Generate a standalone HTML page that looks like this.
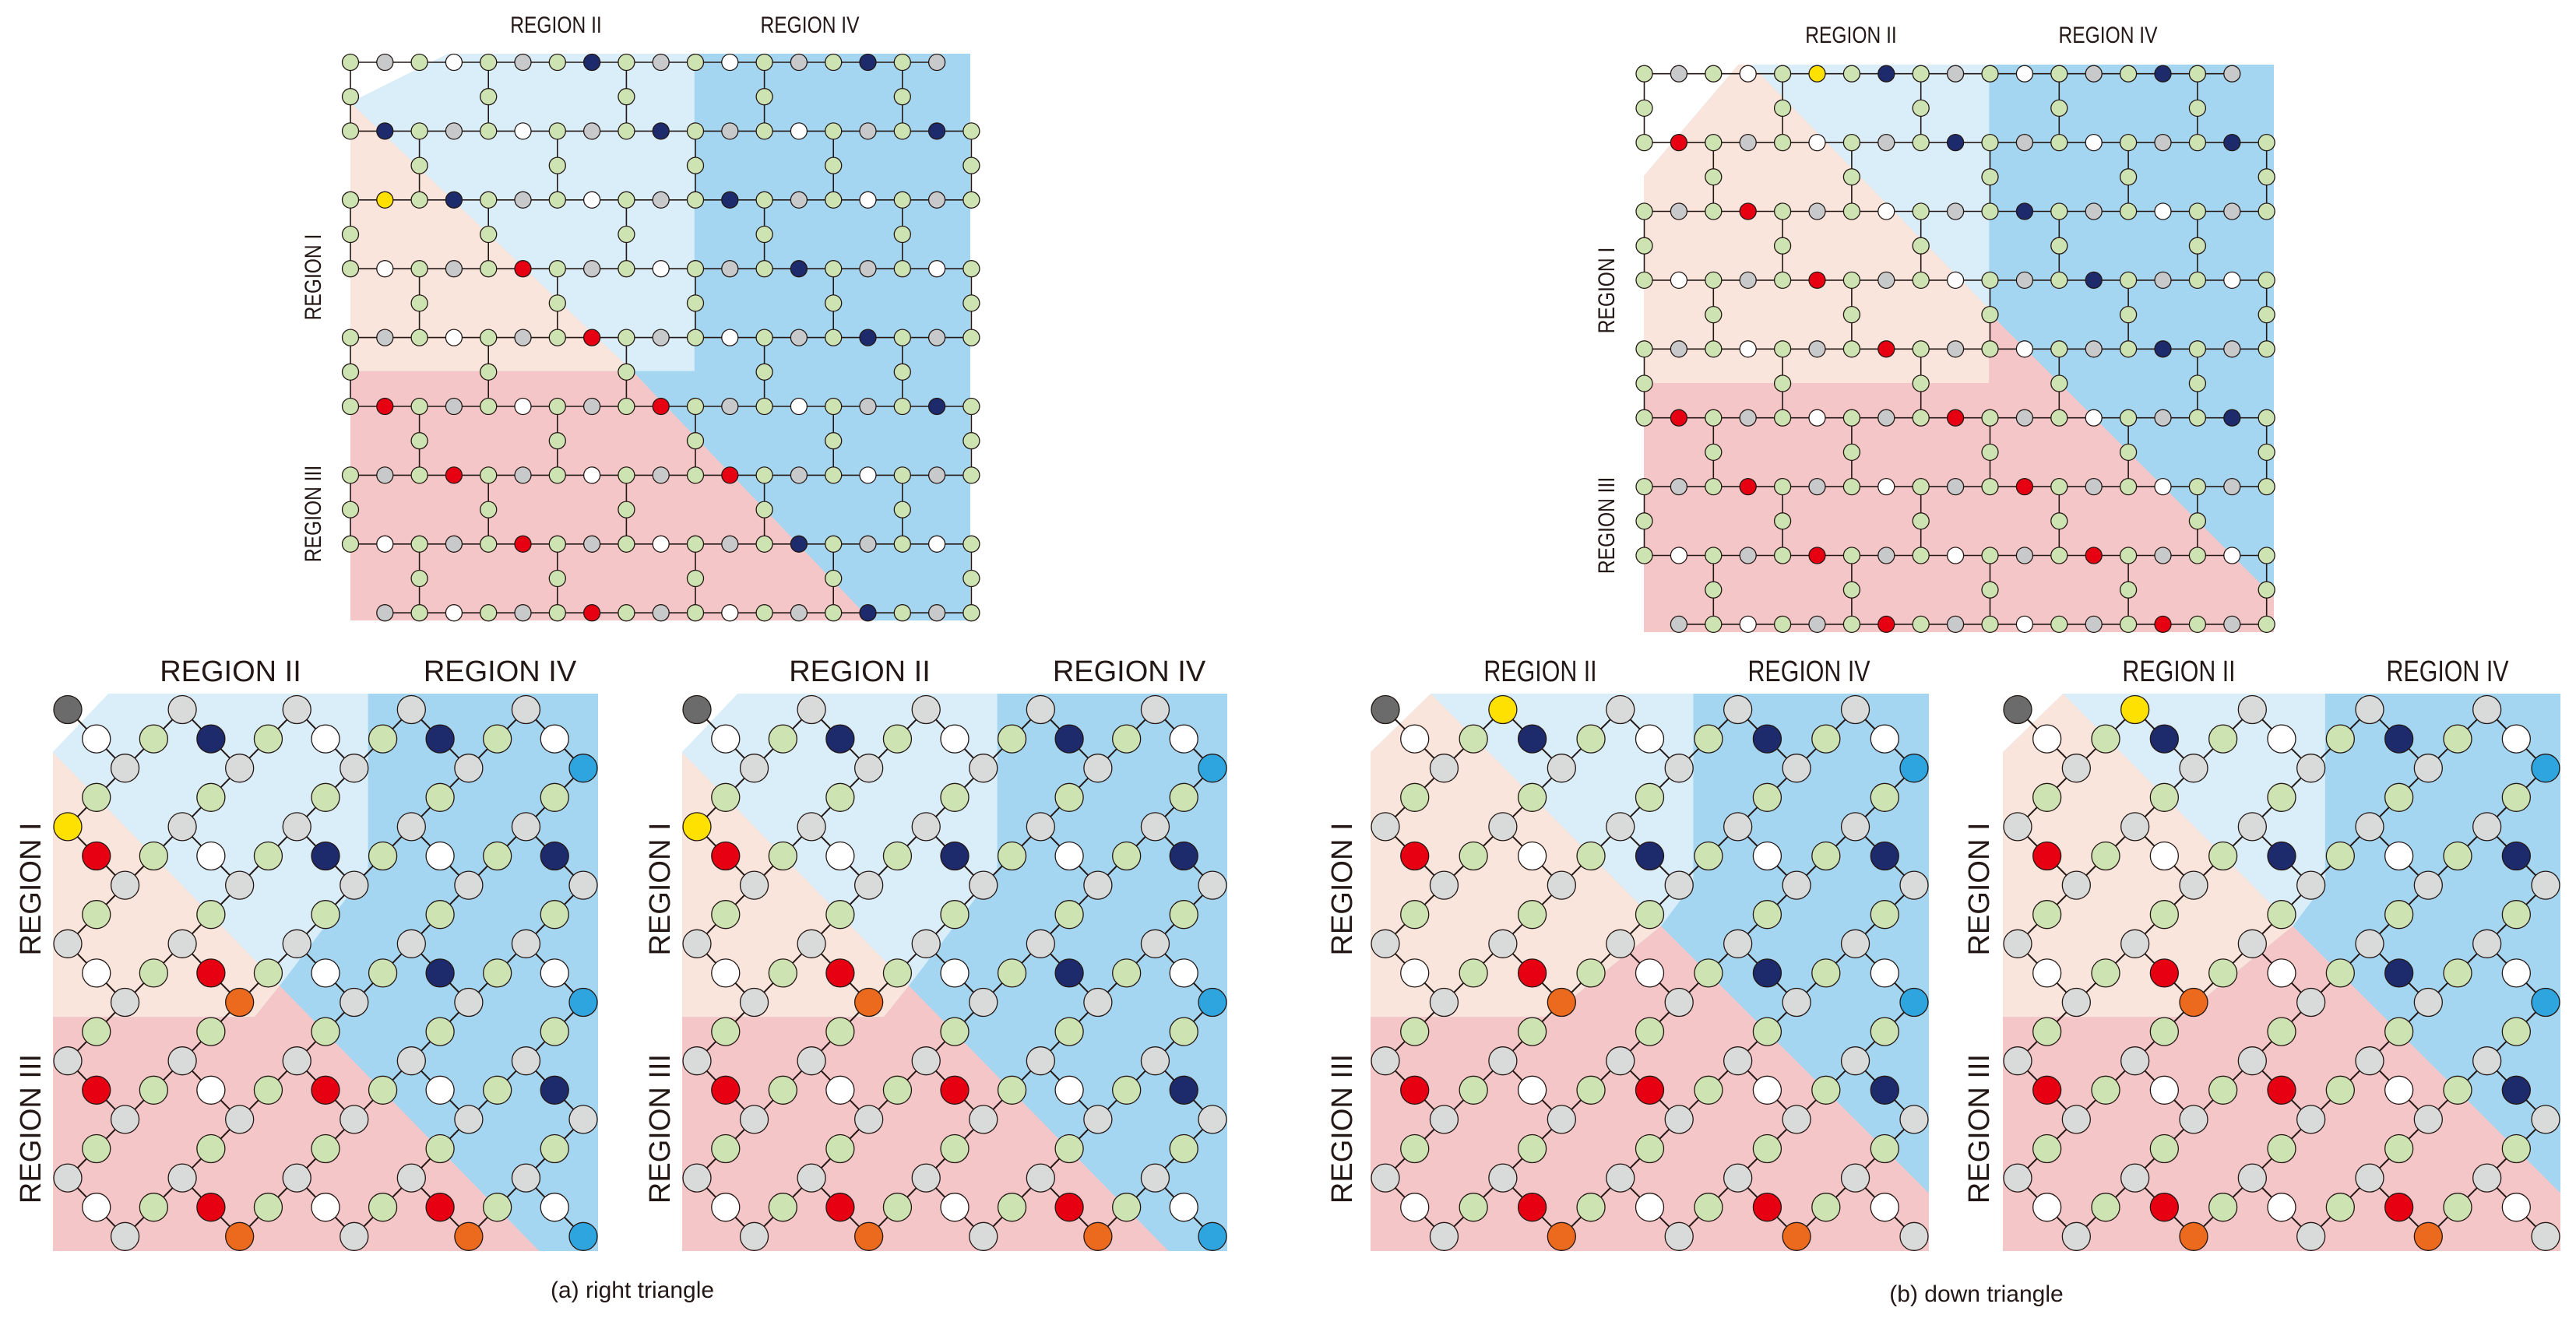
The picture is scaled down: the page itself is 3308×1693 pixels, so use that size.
<!DOCTYPE html>
<html><head><meta charset="utf-8">
<style>
html,body{margin:0;padding:0;background:#fff;}
svg{display:block;}
text{font-family:"Liberation Sans",sans-serif;fill:#231815;}
</style></head>
<body>
<svg id="fig" width="3308" height="1693" viewBox="0 0 3308 1693" xmlns="http://www.w3.org/2000/svg">
<g id="bg"></g><g id="edges"></g><g id="nodes"></g>
<g id="labels">
  <text x="714" y="42" font-size="30" text-anchor="middle" transform="translate(714 0) scale(0.82 1) translate(-714 0)">REGION II</text>
  <text x="1040" y="42" font-size="30" text-anchor="middle" transform="translate(1040 0) scale(0.82 1) translate(-1040 0)">REGION IV</text>
  <text font-size="30" text-anchor="middle" transform="translate(412 356) rotate(-90) scale(0.82 1)">REGION I</text>
  <text font-size="30" text-anchor="middle" transform="translate(412 660) rotate(-90) scale(0.82 1)">REGION III</text>

  <text x="2377" y="55" font-size="30" text-anchor="middle" transform="translate(2377 0) scale(0.82 1) translate(-2377 0)">REGION II</text>
  <text x="2707" y="55" font-size="30" text-anchor="middle" transform="translate(2707 0) scale(0.82 1) translate(-2707 0)">REGION IV</text>
  <text font-size="30" text-anchor="middle" transform="translate(2073 373) rotate(-90) scale(0.82 1)">REGION I</text>
  <text font-size="30" text-anchor="middle" transform="translate(2073 675) rotate(-90) scale(0.82 1)">REGION III</text>

  <text x="296" y="875" font-size="38" text-anchor="middle">REGION II</text>
  <text x="642" y="875" font-size="38" text-anchor="middle">REGION IV</text>
  <text font-size="38" text-anchor="middle" transform="translate(52 1142) rotate(-90)">REGION I</text>
  <text font-size="38" text-anchor="middle" transform="translate(52 1450) rotate(-90)">REGION III</text>

  <text x="1104" y="875" font-size="38" text-anchor="middle">REGION II</text>
  <text x="1450" y="875" font-size="38" text-anchor="middle">REGION IV</text>
  <text font-size="38" text-anchor="middle" transform="translate(860 1142) rotate(-90)">REGION I</text>
  <text font-size="38" text-anchor="middle" transform="translate(860 1450) rotate(-90)">REGION III</text>

  <text font-size="38" text-anchor="middle" transform="translate(1978 875) scale(0.8 1)">REGION II</text>
  <text font-size="38" text-anchor="middle" transform="translate(2323 875) scale(0.8 1)">REGION IV</text>
  <text font-size="38" text-anchor="middle" transform="translate(1736 1142) rotate(-90)">REGION I</text>
  <text font-size="38" text-anchor="middle" transform="translate(1736 1450) rotate(-90)">REGION III</text>

  <text font-size="38" text-anchor="middle" transform="translate(2798 875) scale(0.8 1)">REGION II</text>
  <text font-size="38" text-anchor="middle" transform="translate(3143 875) scale(0.8 1)">REGION IV</text>
  <text font-size="38" text-anchor="middle" transform="translate(2554 1142) rotate(-90)">REGION I</text>
  <text font-size="38" text-anchor="middle" transform="translate(2554 1450) rotate(-90)">REGION III</text>

  <text x="812" y="1667" font-size="30" text-anchor="middle">(a)  right triangle</text>
  <text x="2538" y="1672" font-size="30" text-anchor="middle">(b)  down triangle</text>
</g>
</svg>
<script>
var NS="http://www.w3.org/2000/svg";
var C={blue:"#a5d6f1",lb:"#daeefa",peach:"#fae5dc",pink:"#f5c6c8",
  green:"#cde3b1",gray:"#d9dada",white:"#ffffff",navy:"#1d2a6c",red:"#e60012",
  orange:"#eb6a1e",cyan:"#2fa5df",yellow:"#ffe100",dark:"#6b6b6b"};
var rightShapes={blue:[[0.102,0],[1,0],[1,1],[0,1],[0,0.105]],lb:[[0.102,0],[0.578,0],[0.578,0.316],[0.416,0.524],[0,0.105]],
  peach:[[0,0.105],[0.416,0.524],[0.37,0.58],[0,0.58]],pink:[[0,0.58],[0.37,0.58],[0.416,0.524],[0.892,1],[0,1]]};
var downShapes={blue:[[0.108,0],[1,0],[1,1],[0,1],[0,0.105]],lb:[[0.108,0],[0.578,0],[0.578,0.34],[0.52,0.417]],
  peach:[[0,0.105],[0.108,0],[0.52,0.417],[0.32,0.58],[0,0.58]],pink:[[0,0.58],[0.32,0.58],[0.52,0.417],[1,0.896],[1,1],[0,1]]};
var topLeftShapes={blue:[[0.158,0],[1,0],[1,1],[0,1],[0,0.086]],lb:[[0.158,0],[0.555,0],[0.555,0.56],[0.455,0.56],[0,0.086]],
  peach:[[0,0.086],[0.455,0.56],[0,0.56]],pink:[[0,0.56],[0.455,0.56],[0.84,1],[0,1]]};
var topRightShapes={blue:[[0.15,0],[1,0],[1,1],[0,1],[0,0.196]],lb:[[0.17,0],[0.548,0],[0.548,0.43]],
  peach:[[0,0.196],[0.15,0],[0.17,0],[0.548,0.43],[0.548,0.561],[0,0.561]],pink:[[0,0.561],[0.548,0.561],[0.548,0.437],[1,0.938],[1,1],[0,1]]};
var bottomPanels=[
  {name:"panel-a1",x:68,y:891,w:700,h:716,shapes:rightShapes,yellow:[4,0]},
  {name:"panel-a2",x:876,y:891,w:700,h:716,shapes:rightShapes,yellow:[4,0]},
  {name:"panel-b1",x:1760,y:891,w:717,h:716,shapes:downShapes,yellow:[0,4]},
  {name:"panel-b2",x:2572,y:891,w:716,h:716,shapes:downShapes,yellow:[0,4]}];
var topPanels=[
  {name:"top-left",x:450,y:69,w:796,h:728,nx:450,ny:80,sx:44.3,sy:44.2,shapes:topLeftShapes,yellow:[4,1]},
  {name:"top-right",x:2111,y:83,w:809,h:729,nx:2111.5,ny:94.7,sx:44.4,sy:44.2,shapes:topRightShapes,yellow:[0,5]}];

function el(tag,attrs,parent){var e=document.createElementNS(NS,tag);for(var k in attrs)e.setAttribute(k,attrs[k]);parent.appendChild(e);return e;}
function inPoly(u,v,p){var c=false;for(var i=0,j=p.length-1;i<p.length;j=i++){var a=p[i],b=p[j];
  if(((a[1]>v)!=(b[1]>v))&&(u<(b[0]-a[0])*(v-a[1])/(b[1]-a[1])+a[0]))c=!c;}return c;}
function region(P,x,y){var u=(x-P.x)/P.w,v=(y-P.y)/P.h,S=P.shapes;
  if(inPoly(u,v,S.pink))return "pink";if(inPoly(u,v,S.peach))return "peach";
  if(inPoly(u,v,S.lb))return "lb";if(inPoly(u,v,S.blue))return "blue";return "none";}
var gbg=document.getElementById("bg"),ge=document.getElementById("edges"),gn=document.getElementById("nodes");
function drawShapes(P){["blue","lb","peach","pink"].forEach(function(k){
  var pts=P.shapes[k].map(function(q){return (P.x+q[0]*P.w)+","+(P.y+q[1]*P.h);}).join(" ");
  var e=el("polygon",{points:pts,fill:C[k]},gbg);
  
  });}
function node(P,x,y,r,fill,id){var e=el("circle",{cx:x,cy:y,r:r,fill:fill,stroke:"#231815","stroke-width":1.3},gn);
  
  }
function edge(P,a,b,w){var e=el("line",{x1:a[0],y1:a[1],x2:b[0],y2:b[1],stroke:"#231815","stroke-width":w},ge);
  
  }

bottomPanels.forEach(function(P){
  drawShapes(P);
  var sx=(P.w-38)/18, sy=37.6, x0=P.x+19, y0=P.y+20.5;
  function exists(r,c){if(r<0||r>18||c<0||c>18)return false;var m=r%4;
    if(m==0)return c%4==0;if(m==1)return c%2==1;if(m==2)return c%4==2;return c%4==1;}
  function pos(r,c){return [x0+c*sx,y0+r*sy];}
  for(var r=0;r<=18;r++)for(var c=0;c<=18;c++){if(!exists(r,c))continue;
    [[1,1],[1,-1]].forEach(function(d){if(exists(r+d[0],c+d[1]))edge(P,pos(r,c),pos(r+d[0],c+d[1]),2);});}
  for(var r=0;r<=18;r++)for(var c=0;c<=18;c++){if(!exists(r,c))continue;
    var p=pos(r,c),reg=region(P,p[0],p[1]),hot=(reg=="pink"||reg=="peach"),m=r%4,f;
    if(m==0||m==2){f=C.gray;
      if(m==2&&!hot&&c==18&&r%8==2)f=C.cyan;
      if(m==2&&hot&&c%8==6&&r%8==2&&r>=8)f=C.orange;}
    else if(m==3)f=C.green;
    else{if(c%4==3)f=C.green;else{var k=(c-1)/4;f=((k+(r-1)/4)%2==1)?(hot?C.red:C.navy):C.white;}}
    if(r==0&&c==0)f=C.dark;
    if(r==P.yellow[0]&&c==P.yellow[1])f=C.yellow;
    node(P,p[0],p[1],18,f,r+'-'+c);}
});

topPanels.forEach(function(P){
  drawShapes(P);
  function exists(r,c){if(r<0||r>16||c<0||c>18)return false;
    if(r%2==0){if(r==0&&c==18)return false;if(r==16&&c==0)return false;return true;}
    return ((r-1)/2)%2==0?c%4==0:c%4==2;}
  function pos(r,c){return [P.nx+c*P.sx,P.ny+r*P.sy];}
  for(var r=0;r<=16;r++)for(var c=0;c<=18;c++){if(!exists(r,c))continue;
    if(r%2==0&&exists(r,c+1))edge(P,pos(r,c),pos(r,c+1),1.6);
    if(r%2==1){edge(P,pos(r-1,c),pos(r,c),1.6);edge(P,pos(r,c),pos(r+1,c),1.6);}}
  for(var r=0;r<=16;r++)for(var c=0;c<=18;c++){if(!exists(r,c))continue;
    var p=pos(r,c),reg=region(P,p[0],p[1]),hot=(reg=="pink"||reg=="peach"),f;
    if(r%2==1||c%2==0)f=C.green;
    else{var k=(c-1)/2,h=r/2;
      if(h%2==0){f=(k%2==0)?"#c8c9ca":(((k>>1)+(h>>1))%2==0?C.white:(hot?C.red:(reg=="none"?C.white:C.navy)));}
      else{f=(k%2==1)?"#c8c9ca":((((k>>1)+(h>>1))%2==1)?C.white:(hot?C.red:(reg=="none"?C.white:C.navy)));}}
    if(r==P.yellow[0]&&c==P.yellow[1])f=C.yellow;
    node(P,p[0],p[1],10.5,f,r+'-'+c);}
});
</script>
</body></html>
